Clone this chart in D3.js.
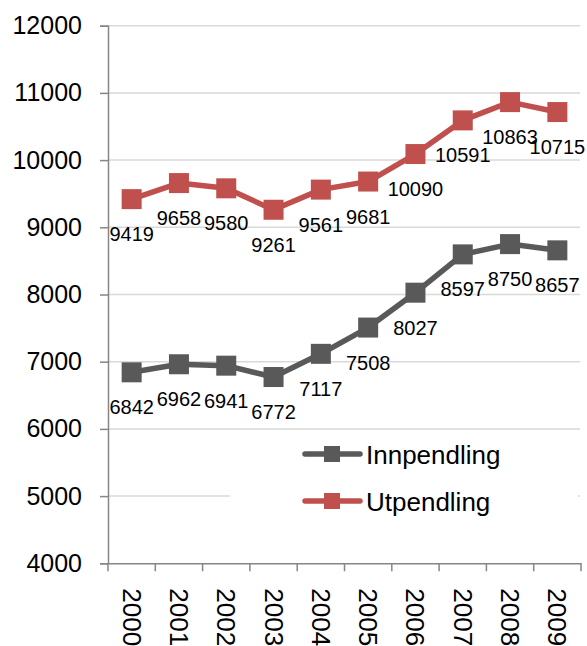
<!DOCTYPE html>
<html>
<head>
<meta charset="utf-8">
<script src="https://cdn.jsdelivr.net/npm/d3@7"></script>
<style>
  body { margin: 0; background: #fff; }
  text { font-family: "Liberation Sans", Arial, sans-serif; }
</style>
</head>
<body>
<svg id="drawing_region"></svg>
<script>
const years = ["2000","2001","2002","2003","2004","2005","2006","2007","2008","2009"];
const innpendling = [6842, 6962, 6941, 6772, 7117, 7508, 8027, 8597, 8750, 8657];
const utpendling = [9419, 9658, 9580, 9261, 9561, 9681, 10090, 10591, 10863, 10715];
const yTicks = [4000, 5000, 6000, 7000, 8000, 9000, 10000, 11000, 12000];

const series = [
    { name: "Innpendling", values: innpendling, color: "#595959" },
    { name: "Utpendling", values: utpendling, color: "#C0504D" }
];

const width = 587, height = 646;
const plotLeft = 108, plotRight = 581, plotTop = 25.7, plotBottom = 563.3;

const svg = d3.select("#drawing_region")
    .attr("width", width)
    .attr("height", height);

const x = d3.scaleBand().domain(years).range([plotLeft, plotRight]);
const y = d3.scaleLinear().domain([4000, 12000]).range([plotBottom, plotTop]);

// gridlines
svg.append("g")
    .selectAll("line")
    .data(yTicks.slice(1))
    .enter()
    .append("line")
    .attr("x1", plotLeft).attr("x2", plotRight - 1)
    .attr("y1", d => y(d)).attr("y2", d => y(d))
    .attr("stroke", "#d9d9d9")
    .attr("stroke-width", 1.5);

// legend background hides part of the gridlines
svg.append("rect")
    .attr("x", 230).attr("y", 433)
    .attr("width", 348).attr("height", 95)
    .attr("fill", "#fff");

// y axis
const yAxis = svg.append("g")
    .attr("transform", `translate(${plotLeft},0)`)
    .call(d3.axisLeft(y).tickValues(yTicks).tickSize(8).tickPadding(18).tickFormat(d3.format("d")));
yAxis.select(".domain").attr("stroke", "#868686").attr("stroke-width", 1.5);
yAxis.selectAll(".tick line").attr("stroke", "#868686").attr("stroke-width", 1.5);
yAxis.selectAll(".tick text")
    .style("font-size", "25px")
    .attr("fill", "#000");

// x axis
const xAxis = svg.append("g")
    .attr("transform", `translate(0,${plotBottom})`)
    .call(d3.axisBottom(x).tickSize(0).tickFormat(""));
xAxis.select(".domain").attr("stroke", "#868686").attr("stroke-width", 1.5);

svg.append("g")
    .selectAll("line")
    .data(years.concat(["end"]))
    .enter()
    .append("line")
    .attr("x1", (d, i) => plotLeft + i * x.step())
    .attr("x2", (d, i) => plotLeft + i * x.step())
    .attr("y1", plotBottom).attr("y2", plotBottom + 8)
    .attr("stroke", "#868686")
    .attr("stroke-width", 1.5);

svg.append("g")
    .selectAll("text")
    .data(years)
    .enter()
    .append("text")
    .attr("transform", d => `translate(${x(d) + x.bandwidth() / 2},${plotBottom + 25}) rotate(90)`)
    .attr("dominant-baseline", "central")
    .style("font-size", "26px")
    .text(d => d);

// lines + markers
const line = d3.line()
    .x((d, i) => x(years[i]) + x.bandwidth() / 2)
    .y(d => y(d));

series.forEach(s => {
    const g = svg.append("g");
    g.append("path")
        .attr("d", line(s.values))
        .attr("fill", "none")
        .attr("stroke", s.color)
        .attr("stroke-width", 5.5)
        .attr("stroke-linejoin", "round");
    g.selectAll("rect")
        .data(s.values)
        .enter()
        .append("rect")
        .attr("x", (d, i) => x(years[i]) + x.bandwidth() / 2 - 10)
        .attr("y", d => y(d) - 10)
        .attr("width", 20).attr("height", 20)
        .attr("fill", s.color);
    g.selectAll("text")
        .data(s.values)
        .enter()
        .append("text")
        .attr("x", (d, i) => x(years[i]) + x.bandwidth() / 2)
        .attr("y", d => y(d) + 35)
        .attr("text-anchor", "middle")
        .attr("dominant-baseline", "central")
        .style("font-size", "20px")
        .text(d => d);
});

// legend
const legend = svg.append("g")
    .selectAll("g")
    .data(series)
    .enter()
    .append("g")
    .attr("transform", (d, i) => `translate(305,${454 + i * 47})`);
legend.append("line")
    .attr("x1", 0).attr("x2", 55)
    .attr("stroke", d => d.color)
    .attr("stroke-width", 5.5)
    .attr("stroke-linecap", "round");
legend.append("rect")
    .attr("x", 19).attr("y", -8)
    .attr("width", 16).attr("height", 16)
    .attr("fill", d => d.color);
legend.append("text")
    .attr("x", 61)
    .attr("y", 1)
    .attr("dominant-baseline", "central")
    .style("font-size", "26px")
    .text(d => d.name);
</script>
</body>
</html>
